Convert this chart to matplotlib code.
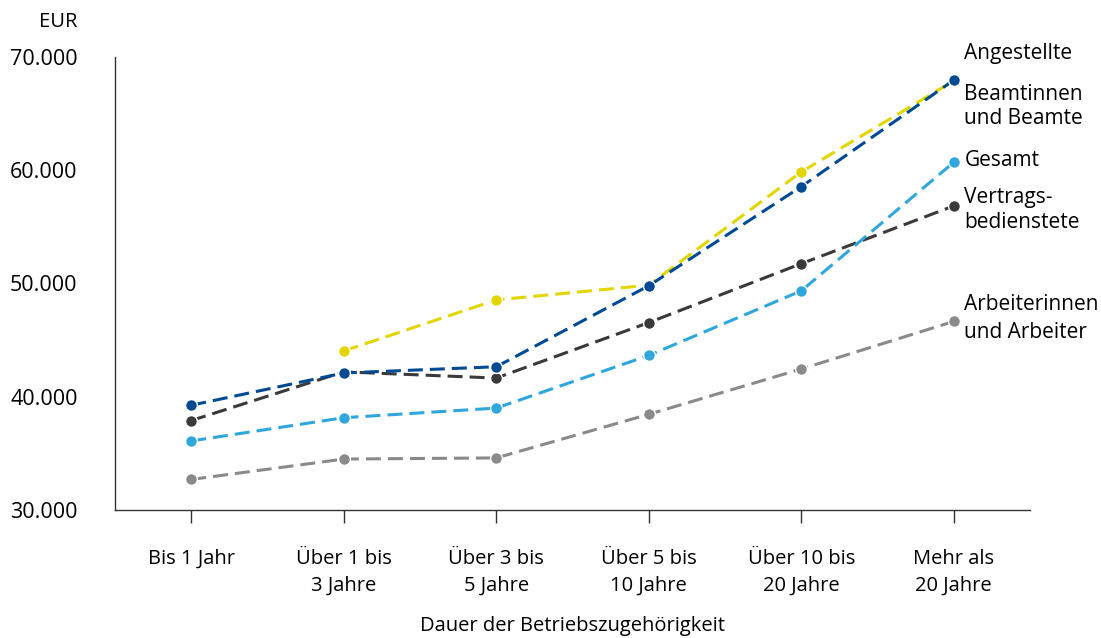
import numpy as np
import matplotlib.pyplot as plt

plt.rcParams['font.family'] = ['Open Sans', 'DejaVu Sans']

categories = ["Bis 1 Jahr", "Über 1 bis\n3 Jahre", "Über 3 bis\n5 Jahre",
              "Über 5 bis\n10 Jahre", "Über 10 bis\n20 Jahre", "Mehr als\n20 Jahre"]

angestellte = [np.nan, 44050, 48550, 49850, 59850, 67900]
beamte = [39250, 42100, 42650, 49800, 58550, 67950]
gesamt = [36100, 38150, 39000, 43650, 49350, 60700]
vertrag = [37900, 42200, 41650, 46550, 51750, 56850]
arbeiter = [32700, 34500, 34600, 38450, 42450, 46650]

series = [
    (angestellte, "#e3d600", "Angestellte"),
    (vertrag, "#3a3a3a", "Vertrags-\nbedienstete"),
    (gesamt, "#2fa6dc", "Gesamt"),
    (arbeiter, "#8a8a8a", "Arbeiterinnen\nund Arbeiter"),
    (beamte, "#004a93", "Beamtinnen\nund Beamte"),
]

fig = plt.figure(figsize=(11.01, 6.38), dpi=100)
ax = fig.add_axes([0.1045, 0.2006, 0.831, 0.7101])

x = np.arange(len(categories))
for vals, col, name in series:
    ax.plot(x, vals, color=col, lw=2.2, dashes=(4.9, 2.3), marker='o', ms=8.5,
            mfc=col, mec='white', mew=1.0, zorder=3)

ax.set_xlim(-0.5, 5.5)
ax.set_ylim(30000, 70000)
ax.set_yticks([30000, 40000, 50000, 60000, 70000])
ax.set_yticklabels(["30.000", "40.000", "50.000", "60.000", "70.000"], fontsize=15.5)
ax.tick_params(axis='y', length=0, pad=27)
ax.set_xticks(x)
ax.set_xticklabels(categories, fontsize=14.5, linespacing=1.45)
ax.tick_params(axis='x', length=9, width=1, color='#333333', pad=19, direction='out')

for s in ['top', 'right']:
    ax.spines[s].set_visible(False)
for s in ['left', 'bottom']:
    ax.spines[s].set_color('#333333')
    ax.spines[s].set_linewidth(1.0)

ax.text(-0.5 - 38 / 152.6, 73100, "EUR", ha='right', va='center', fontsize=14.5,
        clip_on=False)

# series labels at right
lab_x = 5.07
ax.text(lab_x, 70350, "Angestellte", fontsize=15, va='center', ha='left')
ax.text(lab_x, 65630, "Beamtinnen\nund Beamte", fontsize=15, va='center', ha='left', linespacing=1.19)
ax.text(lab_x, 60900, "Gesamt", fontsize=15, va='center', ha='left')
ax.text(lab_x, 56490, "Vertrags-\nbedienstete", fontsize=15, va='center', ha='left', linespacing=1.24)
ax.text(lab_x, 46870, "Arbeiterinnen\nund Arbeiter", fontsize=15, va='center', ha='left', linespacing=1.44)

ax.set_xlabel("Dauer der Betriebszugehörigkeit", fontsize=14.5, labelpad=15)

fig.savefig("out.png", dpi=100)
